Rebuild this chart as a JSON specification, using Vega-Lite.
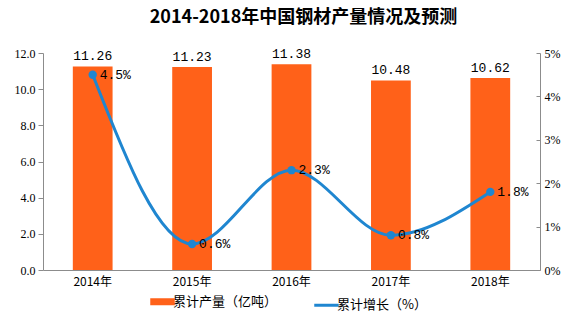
{
  "$schema": "https://vega.github.io/schema/vega-lite/v6.json",
  "width": 497,
  "height": 217,
  "autosize": {"type": "none"},
  "padding": {"left": 43, "top": 53, "right": 36, "bottom": 57},
  "background": "white",
  "title": {"text": "2014-2018年中国钢材产量情况及预测", "font": "Noto Sans CJK SC", "fontSize": 18, "fontWeight": "bold", "color": "#000000", "offset": 20, "anchor": "middle", "dx": 12},
  "config": {
    "view": {"stroke": null},
    "font": "Noto Sans CJK SC",
    "legend": {"layout": {"bottom": {"anchor": "middle"}}},
    "axis": {"grid": false, "domainColor": "#8c8c8c", "tickColor": "#8c8c8c", "labelColor": "#000000", "labelFontSize": 12, "labelFont": "Liberation Serif"}
  },
  "data": {"values": [
    {"year": "2014年", "output": 11.26, "growth": 4.5},
    {"year": "2015年", "output": 11.23, "growth": 0.6},
    {"year": "2016年", "output": 11.38, "growth": 2.3},
    {"year": "2017年", "output": 10.48, "growth": 0.8},
    {"year": "2018年", "output": 10.62, "growth": 1.8}
  ]},
  "encoding": {
    "x": {"field": "year", "type": "nominal", "sort": null, "scale": {"paddingInner": 0.6, "paddingOuter": 0.3}, "axis": {"title": null, "labelAngle": 0, "labelPadding": 6, "ticks": false, "labelFont": "Noto Sans CJK SC", "labelFontSize": 12}}
  },
  "layer": [
    {
      "mark": {"type": "bar", "color": "#FF6119"},
      "encoding": {
        "y": {"field": "output", "type": "quantitative", "scale": {"domain": [0, 12]}, "axis": {"title": null, "values": [0, 2, 4, 6, 8, 10, 12], "format": ".1f", "tickSize": 5, "labelPadding": 3}},
        "color": {"datum": "累计产量（亿吨）", "type": "nominal", "scale": {"domain": ["累计产量（亿吨）", "累计增长（%）"], "range": ["#FF6119", "#1F86D0"]},
          "legend": {"title": null, "orient": "bottom", "direction": "horizontal", "symbolType": "stroke", "symbolSize": 600, "labelFontSize": 13, "labelColor": "#000000", "columnPadding": 30, "offset": 8,
            "encode": {"symbols": {"update": {"strokeWidth": {"signal": "datum.value === '累计产量（亿吨）' ? 7 : 3"}}}}}}
      }
    },
    {
      "mark": {"type": "text", "dy": -10, "fontSize": 13, "font": "Liberation Mono", "color": "#000000"},
      "encoding": {
        "y": {"field": "output", "type": "quantitative", "scale": {"domain": [0, 12]}, "axis": null},
        "text": {"field": "output", "type": "quantitative", "format": ".2f"}
      }
    },
    {
      "mark": {"type": "line", "interpolate": "monotone", "strokeWidth": 3, "color": "#1F86D0", "point": {"filled": true, "size": 70, "color": "#1F86D0"}},
      "encoding": {
        "y": {"field": "growth", "type": "quantitative", "scale": {"domain": [0, 5]}, "axis": {"orient": "right", "title": null, "values": [0, 1, 2, 3, 4, 5], "labelExpr": "datum.value + '%'", "tickSize": -4, "labelPadding": 8}},
        "color": {"datum": "累计增长（%）", "type": "nominal"}
      }
    },
    {
      "mark": {"type": "text", "align": "left", "dx": 7, "fontSize": 13, "font": "Liberation Mono", "color": "#000000"},
      "encoding": {
        "y": {"field": "growth", "type": "quantitative", "scale": {"domain": [0, 5]}, "axis": null},
        "text": {"field": "label", "type": "nominal"}
      },
      "transform": [{"calculate": "format(datum.growth, '.1f') + '%'", "as": "label"}]
    }
  ],
  "resolve": {"scale": {"y": "independent"}}
}
